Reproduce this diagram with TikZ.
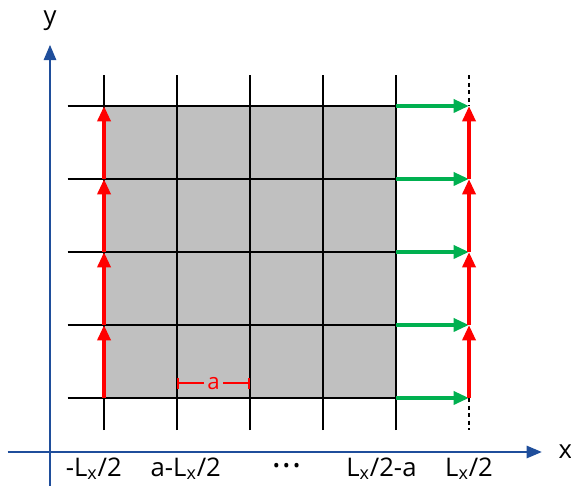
\documentclass[tikz,border=0pt]{standalone}
\usepackage{fontspec}
\setmainfont{Open Sans}
\usetikzlibrary{arrows.meta}
\definecolor{eixo}{RGB}{31,78,155}
\definecolor{verde}{RGB}{0,176,80}
\definecolor{cinza}{RGB}{192,192,192}
\begin{document}
\begin{tikzpicture}[x=1.5cm, y=1.5cm,
  grade/.style={line width=1.1pt},
  seta/.style={-{Triangle[length=9pt,width=7.5pt]}, line width=2.4pt},
  rot/.style={font=\fontsize{15}{18}\selectfont}]
\useasboundingbox (-1.425,-1.205) rectangle (6.397,5.452);
% pontos da rede
\foreach \i in {0,...,5}
  \foreach \j in {0,...,4}
    \coordinate (p\i\j) at (\i,\j);
\fill[cinza] (p00) rectangle (p44);
\foreach \i in {0,...,4}
  \draw[grade] (\i,-0.44) -- (\i,4.42);
\foreach \j in {0,...,4}
  \draw[grade] (-0.5,\j) -- (p4\j);
\draw[grade, dash pattern=on 2.4pt off 2pt] (5,4.42) -- (p54);
\draw[grade, dash pattern=on 2.4pt off 2pt] (p50) -- (5,-0.44);
% eixos
\coordinate (xi) at (-1.32,-0.74);
\coordinate (xf) at (6.0,-0.74);
\coordinate (yi) at (-0.74,-1.205);
\coordinate (yf) at (-0.74,4.84);
\draw[eixo, line width=1.7pt, -{Triangle[length=9pt,width=7pt]}] (xi) -- (xf);
\draw[eixo, line width=1.7pt, -{Triangle[length=9pt,width=7pt]}] (yi) -- (yf);
\node[rot] (lx) at (6.32,-0.74) {x};
\node[rot] (ly) at (-0.74,5.17) {y};
% setas
\foreach \j in {0,...,4}
  \draw[seta, verde] (p4\j) -- (p5\j);
\foreach \j [evaluate=\j as \k using int(\j+1)] in {0,...,3} {
  \draw[seta, red] (p0\j) -- (p0\k);
  \draw[seta, red] (p5\j) -- (p5\k);
}
% constante de rede
\coordinate (m1) at (1,0.2);
\coordinate (m2) at (2,0.2);
\draw[red, line width=1.2pt, {Bar[width=6pt]}-{Bar[width=6pt]}] (m1) --
  node[fill=cinza, text=red, inner sep=2pt, font=\fontsize{13}{15}\selectfont] (ra) {a} (m2);
% rotulos do eixo x
\node[rot] (t0) at (-0.14,-0.97) {-L\textsubscript{x}/2};
\node[rot] (t1) at (1.12,-0.97) {a-L\textsubscript{x}/2};
\node[rot] (t2) at (2.5,-0.96) {\fontsize{11}{13}\selectfont •\,•\,•};
\node[rot] (t3) at (3.8,-0.97) {L\textsubscript{x}/2-a};
\node[rot] (t4) at (5.0,-0.97) {L\textsubscript{x}/2};
\end{tikzpicture}
\end{document}
